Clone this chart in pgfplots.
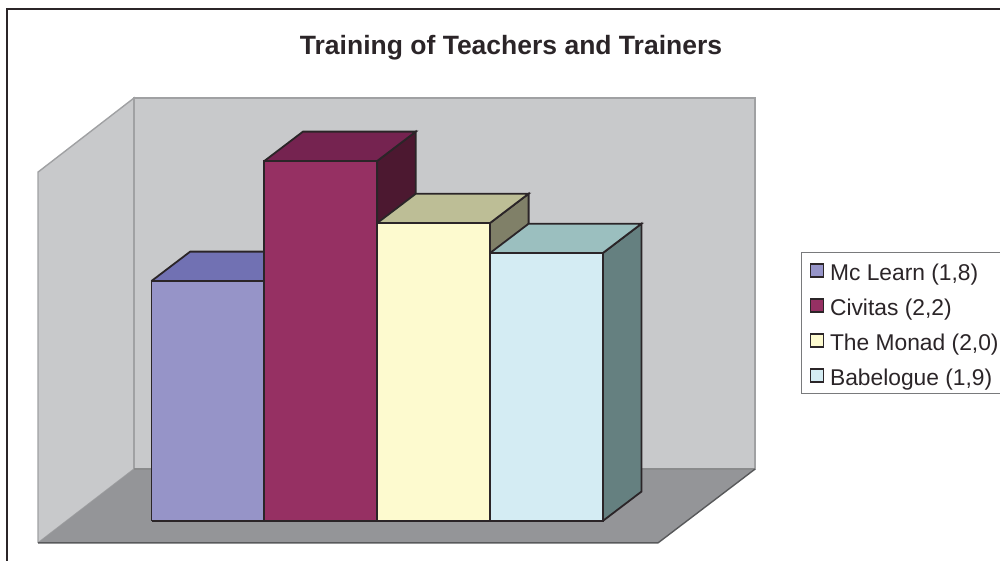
\documentclass[border=0pt]{standalone}
\usepackage{pgfplots}
\pgfplotsset{compat=1.18}
\usepackage{fontspec}
\setmainfont{Liberation Sans}
\definecolor{wall}{HTML}{C8C9CB}
\definecolor{walledge}{HTML}{A0A1A3}
\definecolor{floorc}{HTML}{949598}
\definecolor{flooredge}{HTML}{58595B}
\definecolor{ink}{HTML}{2B2528}
\definecolor{aF}{HTML}{9694C8}
\definecolor{aT}{HTML}{7171B3}
\definecolor{aS}{HTML}{5E5E96}
\definecolor{bF}{HTML}{963063}
\definecolor{bT}{HTML}{752350}
\definecolor{bS}{HTML}{4C1830}
\definecolor{cF}{HTML}{FDFACF}
\definecolor{cT}{HTML}{BDBE96}
\definecolor{cS}{HTML}{808068}
\definecolor{dF}{HTML}{D4ECF3}
\definecolor{dT}{HTML}{9BBFBF}
\definecolor{dS}{HTML}{658080}
\begin{document}
\begin{tikzpicture}
\useasboundingbox (0,0) rectangle (1000pt,561pt);
\begin{axis}[
  at={(0,0)}, anchor=south west,
  scale only axis, width=1000pt, height=561pt,
  xmin=-1.343, xmax=7.522, ymin=0.8667, ymax=2.7367,
  axis lines=none, ticks=none, clip=false,
  every axis plot/.append style={mark=none, line join=miter},
  legend style={at={(0.801,0.5508)}, anchor=north west, draw=flooredge!80,
    line width=1.2pt, fill=white, inner xsep=8pt, inner ysep=6pt,
    font=\fontsize{22.8}{26}\selectfont\color{ink},
    row sep=11pt,
    nodes={inner sep=0pt, anchor=west, text height=22pt, text depth=2pt},
    /tikz/every odd column/.append style={column sep=6pt}},
  legend cell align=left,
  legend image code/.code={\draw[#1] (0pt,-6.5pt) rectangle (13pt,6.5pt);},
]
% outer frame
\addplot[forget plot, draw=ink, line width=2pt] coordinates {(-1.277,0.8667) (-1.277,2.7067) (7.522,2.7067)};
% walls and floor
\addplot[forget plot, fill=wall, draw=walledge, line width=1.4pt] coordinates {(-1.006,0.927) (-0.155,1.173) (-0.155,2.41) (-1.006,2.163) (-1.006,0.927)};
\addplot[forget plot, fill=wall, draw=walledge, line width=1.4pt] coordinates {(-0.155,1.173) (5.35,1.173) (5.35,2.41) (-0.155,2.41) (-0.155,1.173)};
\addplot[forget plot, fill=floorc, draw=none] coordinates {(-1.006,0.927) (-0.155,1.173) (5.35,1.173) (4.49,0.927) (-1.006,0.927)};
\addplot[forget plot, draw=flooredge!70, line width=1.4pt] coordinates {(-0.155,1.173) (5.35,1.173)};
\addplot[forget plot, draw=flooredge, line width=1.4pt] coordinates {(-1.006,0.927) (4.49,0.927) (5.35,1.173)};
% Mc Learn 1.8
\addplot[forget plot, fill=aS, draw=ink, line width=1.8pt] coordinates {(1,1) (1.343,1.098) (1.343,1.898) (1,1.8) (1,1)};
\addplot[forget plot, fill=aT, draw=ink, line width=1.8pt] coordinates {(0,1.8) (1,1.8) (1.343,1.898) (0.343,1.898) (0,1.8)};
\addplot[forget plot, fill=aF, draw=ink, line width=1.8pt] coordinates {(0,1) (1,1) (1,1.8) (0,1.8) (0,1)};
% Civitas 2.2
\addplot[forget plot, fill=bS, draw=ink, line width=1.8pt] coordinates {(2,1) (2.343,1.098) (2.343,2.298) (2,2.2) (2,1)};
\addplot[forget plot, fill=bT, draw=ink, line width=1.8pt] coordinates {(1,2.2) (2,2.2) (2.343,2.298) (1.343,2.298) (1,2.2)};
\addplot[forget plot, fill=bF, draw=ink, line width=1.8pt] coordinates {(1,1) (2,1) (2,2.2) (1,2.2) (1,1)};
% The Monad 2.0
\addplot[forget plot, fill=cS, draw=ink, line width=1.8pt] coordinates {(3,1) (3.343,1.098) (3.343,2.091) (3,1.993) (3,1)};
\addplot[forget plot, fill=cT, draw=ink, line width=1.8pt] coordinates {(2,1.993) (3,1.993) (3.343,2.091) (2.343,2.091) (2,1.993)};
\addplot[forget plot, fill=cF, draw=ink, line width=1.8pt] coordinates {(2,1) (3,1) (3,1.993) (2,1.993) (2,1)};
% Babelogue 1.9
\addplot[forget plot, fill=dS, draw=ink, line width=1.8pt] coordinates {(4,1) (4.343,1.098) (4.343,1.991) (4,1.893) (4,1)};
\addplot[forget plot, fill=dT, draw=ink, line width=1.8pt] coordinates {(3,1.893) (4,1.893) (4.343,1.991) (3.343,1.991) (3,1.893)};
\addplot[forget plot, fill=dF, draw=ink, line width=1.8pt] coordinates {(3,1) (4,1) (4,1.893) (3,1.893) (3,1)};
\addlegendimage{fill=aF, draw=ink, line width=1.4pt}
\addlegendentry{Mc Learn (1,8)}
\addlegendimage{fill=bF, draw=ink, line width=1.4pt}
\addlegendentry{Civitas (2,2)}
\addlegendimage{fill=cF, draw=ink, line width=1.4pt}
\addlegendentry{The Monad (2,0)}
\addlegendimage{fill=dF, draw=ink, line width=1.4pt}
\addlegendentry{Babelogue (1,9)}
\node[font=\fontsize{26.5}{30}\selectfont\bfseries, text=ink, anchor=base] at (axis cs:3.187,2.554) {Training of Teachers and Trainers};
\end{axis}
\end{tikzpicture}
\end{document}
